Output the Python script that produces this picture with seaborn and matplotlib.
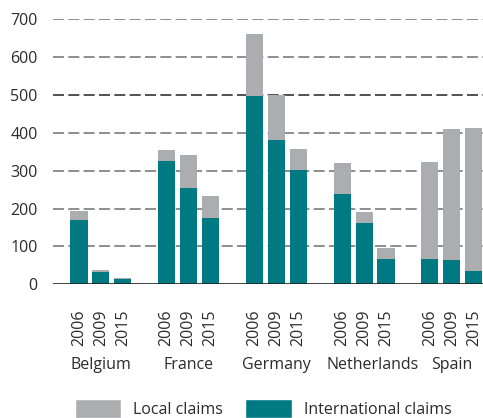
import numpy as np
import pandas as pd
import matplotlib
matplotlib.use("Agg")
import matplotlib.pyplot as plt
import matplotlib.transforms as mtransforms
from matplotlib.patches import Patch
import seaborn as sns

# -----------------------------
# Dados
# -----------------------------
countries = ["Belgium", "France", "Germany", "Netherlands", "Spain"]
years = ["2006", "2009", "2015"]
international = [170, 32, 14, 326, 254, 175, 497, 381, 302, 238, 162, 67, 67, 64, 35]
local = [24, 6, 3, 29, 88, 58, 164, 118, 55, 82, 29, 29, 256, 346, 378]

GREY = "#acadb1"
TEAL = "#007a82"
TEXT = "#2b2b2b"

# posicao de cada barra: 3 por pais + 1 slot vazio entre paises
slots = [i * 4 + j for i in range(len(countries)) for j in range(len(years))]
df = pd.DataFrame({
    "slot": slots,
    "country": np.repeat(countries, len(years)),
    "year": years * len(countries),
    "international": international,
    "local": local,
})
df["total"] = df["international"] + df["local"]
n_slots = max(slots) + 1

sns.set_style("white")
plt.rcParams["font.family"] = ["Open Sans", "DejaVu Sans"]

fig = plt.figure(figsize=(4.83, 4.18), dpi=100)
ax = fig.add_axes([53 / 483, 0.3199, 430 / 483, 0.6339])

order = list(range(n_slots))
sns.barplot(data=df, x="slot", y="total", order=order, color=GREY,
            width=0.78, saturation=1, errorbar=None, ax=ax, zorder=3)
sns.barplot(data=df, x="slot", y="international", order=order, color=TEAL,
            width=0.78, saturation=1, errorbar=None, ax=ax, zorder=3)
for p in ax.patches:
    p.set_linewidth(0)

ax.set_ylim(0, 700)
ax.set_xlim(-1.184, 18.42)

# grid tracejado
for v in range(100, 701, 100):
    col = "#333333" if v == 500 else "#7a7a7a"
    ax.axhline(v, color=col, lw=1.2, ls=(0, (6.6, 2.6)), zorder=1)
ax.axhline(0, color="#222222", lw=1.2, zorder=4)

for s in ["top", "right", "left", "bottom"]:
    ax.spines[s].set_visible(False)

ax.set_yticks(range(0, 701, 100))
ax.tick_params(axis="y", length=0, pad=11, labelsize=11.5, labelcolor=TEXT)

# ticks nas bordas dos slots, rotulos dos anos no centro
ax.set_xticks(np.arange(-0.5, n_slots - 1, 1.0))
ax.set_xticklabels([])
ax.tick_params(axis="x", which="major", length=11, width=1, color="#555555",
               direction="out")
ax.set_xticks(slots, minor=True)
ax.set_xticklabels(df["year"], minor=True, rotation=90, fontsize=11.5,
                   color=TEXT)
ax.tick_params(axis="x", which="minor", length=0, pad=18)
ax.set_xlabel("")
ax.set_ylabel("")

trans = mtransforms.blended_transform_factory(ax.transData, fig.transFigure)
label_x = [1, 5, 9, 13.4, 17]
for c, x in zip(countries, label_x):
    ax.text(x, 1 - 365 / 418, c, transform=trans, ha="center", va="center",
            fontsize=11.5, color=TEXT)

handles = [Patch(facecolor=GREY, label="Local claims"),
           Patch(facecolor=TEAL, label="International claims")]
fig.legend(handles=handles, loc="upper center", ncol=2, frameon=False,
           bbox_to_anchor=(0.545, 1 - 393 / 418), fontsize=11.5,
           handlelength=2.9, handleheight=1.45, handletextpad=0.75,
           columnspacing=1.4, labelcolor=TEXT, borderaxespad=0)

fig.savefig("out.png", dpi=100)
